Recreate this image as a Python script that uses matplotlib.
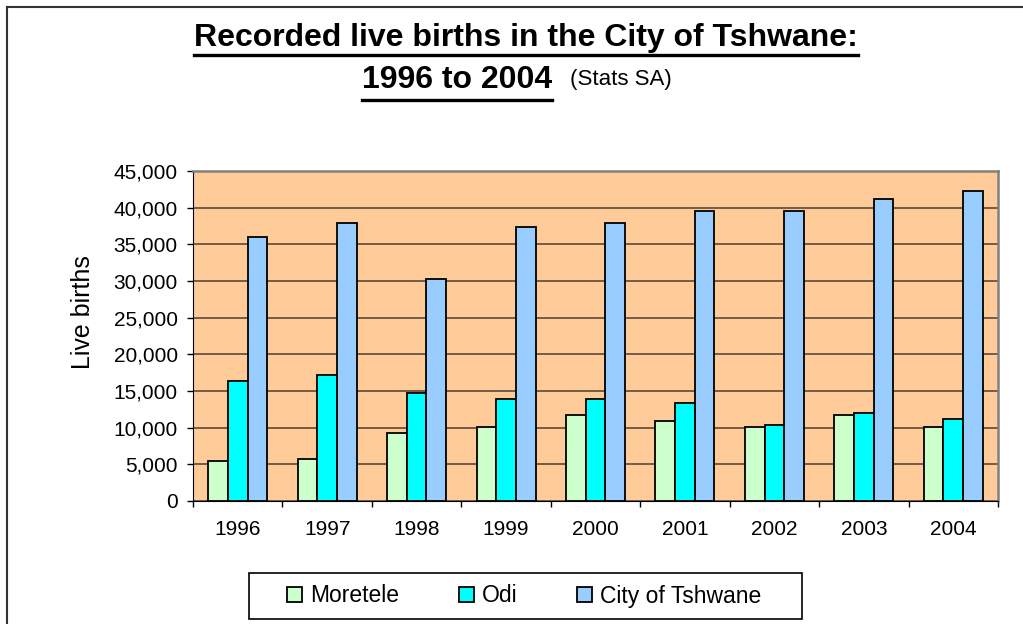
"""Recorded live births in the City of Tshwane, 1996-2004 (grouped bar chart)."""

import matplotlib
matplotlib.use("Agg")
import matplotlib.pyplot as plt
import numpy as np
from matplotlib.lines import Line2D
from matplotlib.patches import Rectangle
from matplotlib.ticker import FuncFormatter, MultipleLocator

plt.rcParams["font.family"] = ["Liberation Sans", "DejaVu Sans"]

years = ["1996", "1997", "1998", "1999", "2000", "2001", "2002", "2003", "2004"]
moretele = [5450, 5760, 9260, 10120, 11720, 10940, 10120, 11720, 10120]
odi = [16390, 17170, 14710, 13940, 13940, 13350, 10350, 11990, 11210]
tshwane = [35970, 37920, 30290, 37370, 37920, 39510, 39510, 41140, 42230]

series = [
    ("Moretele", moretele, "#CCFFCC"),
    ("Odi", odi, "#00FFFF"),
    ("City of Tshwane", tshwane, "#99CCFF"),
]

W, H = 1023, 624
fig = plt.figure(figsize=(W / 100, H / 100), dpi=100)
fig.patch.set_facecolor("white")


def fx(px):
    return px / W


def fy(py):
    return 1 - py / H


# outer chart border (only top and left edges fall inside the picture)
fig.add_artist(Line2D([fx(7), 1], [fy(7), fy(7)], transform=fig.transFigure,
                      color="#333333", linewidth=1.5))
fig.add_artist(Line2D([fx(7), fx(7)], [fy(7), 0], transform=fig.transFigure,
                      color="#333333", linewidth=1.5))

# plot area in pixels: x 193..998, y 171..501
ax = fig.add_axes([fx(193), fy(501), fx(998 - 193), (501 - 171) / H])
ax.set_facecolor("#FFCC99")

x = np.arange(len(years))
width = 0.22
for i, (name, vals, color) in enumerate(series):
    ax.bar(x + (i - 1) * width, vals, width, color=color, edgecolor="black",
           linewidth=1.3, label=name, zorder=3)

ax.set_xlim(-0.5, len(years) - 0.5)
ax.set_ylim(0, 45000)
ax.yaxis.set_major_locator(MultipleLocator(5000))
ax.yaxis.set_major_formatter(FuncFormatter(lambda v, p: f"{int(v):,}"))
ax.grid(axis="y", color="#5a4a3a", linewidth=1.2, zorder=1)

ax.set_xticks(x)
ax.set_xticklabels(years, fontsize=15)
ax.tick_params(axis="x", length=0, pad=14)
ax.set_xticks(np.arange(-0.5, len(years)), minor=True)
ax.tick_params(axis="x", which="minor", length=4.5, width=1, color="black")
ax.tick_params(axis="y", labelsize=15, length=4, width=1, pad=7,
               direction="out")

for side in ["top", "right"]:
    ax.spines[side].set_color("#808080")
    ax.spines[side].set_linewidth(1.8)
ax.spines["left"].set_color("black")
ax.spines["bottom"].set_color("black")

ax.set_ylabel("Live births", fontsize=18)
ax.yaxis.set_label_coords(fx(83), 0.5, transform=fig.transFigure)
ax.yaxis.label.set_verticalalignment("center")

# title, underlined
t1 = fig.text(fx(194), fy(46), "Recorded live births in the City of Tshwane:",
              ha="left", va="baseline", fontsize=23, fontweight="bold")
t2 = fig.text(fx(457), fy(88), "1996 to 2004",
              ha="center", va="baseline", fontsize=23, fontweight="bold")
fig.text(fx(570), fy(85), "(Stats SA)", ha="left", va="baseline",
         fontsize=16)

fig.canvas.draw()
renderer = fig.canvas.get_renderer()
for t, uy in ((t1, 55), (t2, 100)):
    bb = t.get_window_extent(renderer)
    fig.add_artist(Line2D([bb.x0 / W, bb.x1 / W], [fy(uy), fy(uy)],
                          transform=fig.transFigure, color="black",
                          linewidth=2.4))

# legend box drawn separately (wide side padding, as in the source chart)
fig.add_artist(Rectangle((fx(249), fy(619)), fx(802 - 249), (619 - 573) / H,
                         transform=fig.transFigure, facecolor="white",
                         edgecolor="black", linewidth=1.2, zorder=2))
leg = fig.legend(loc="center", bbox_to_anchor=(fx(524), fy(596)), ncol=3,
                 fontsize=16.5, frameon=False, handlelength=0.65,
                 handleheight=0.65, handletextpad=0.35, columnspacing=2.6)
leg.set_zorder(3)

fig.savefig("out.png", dpi=100)
